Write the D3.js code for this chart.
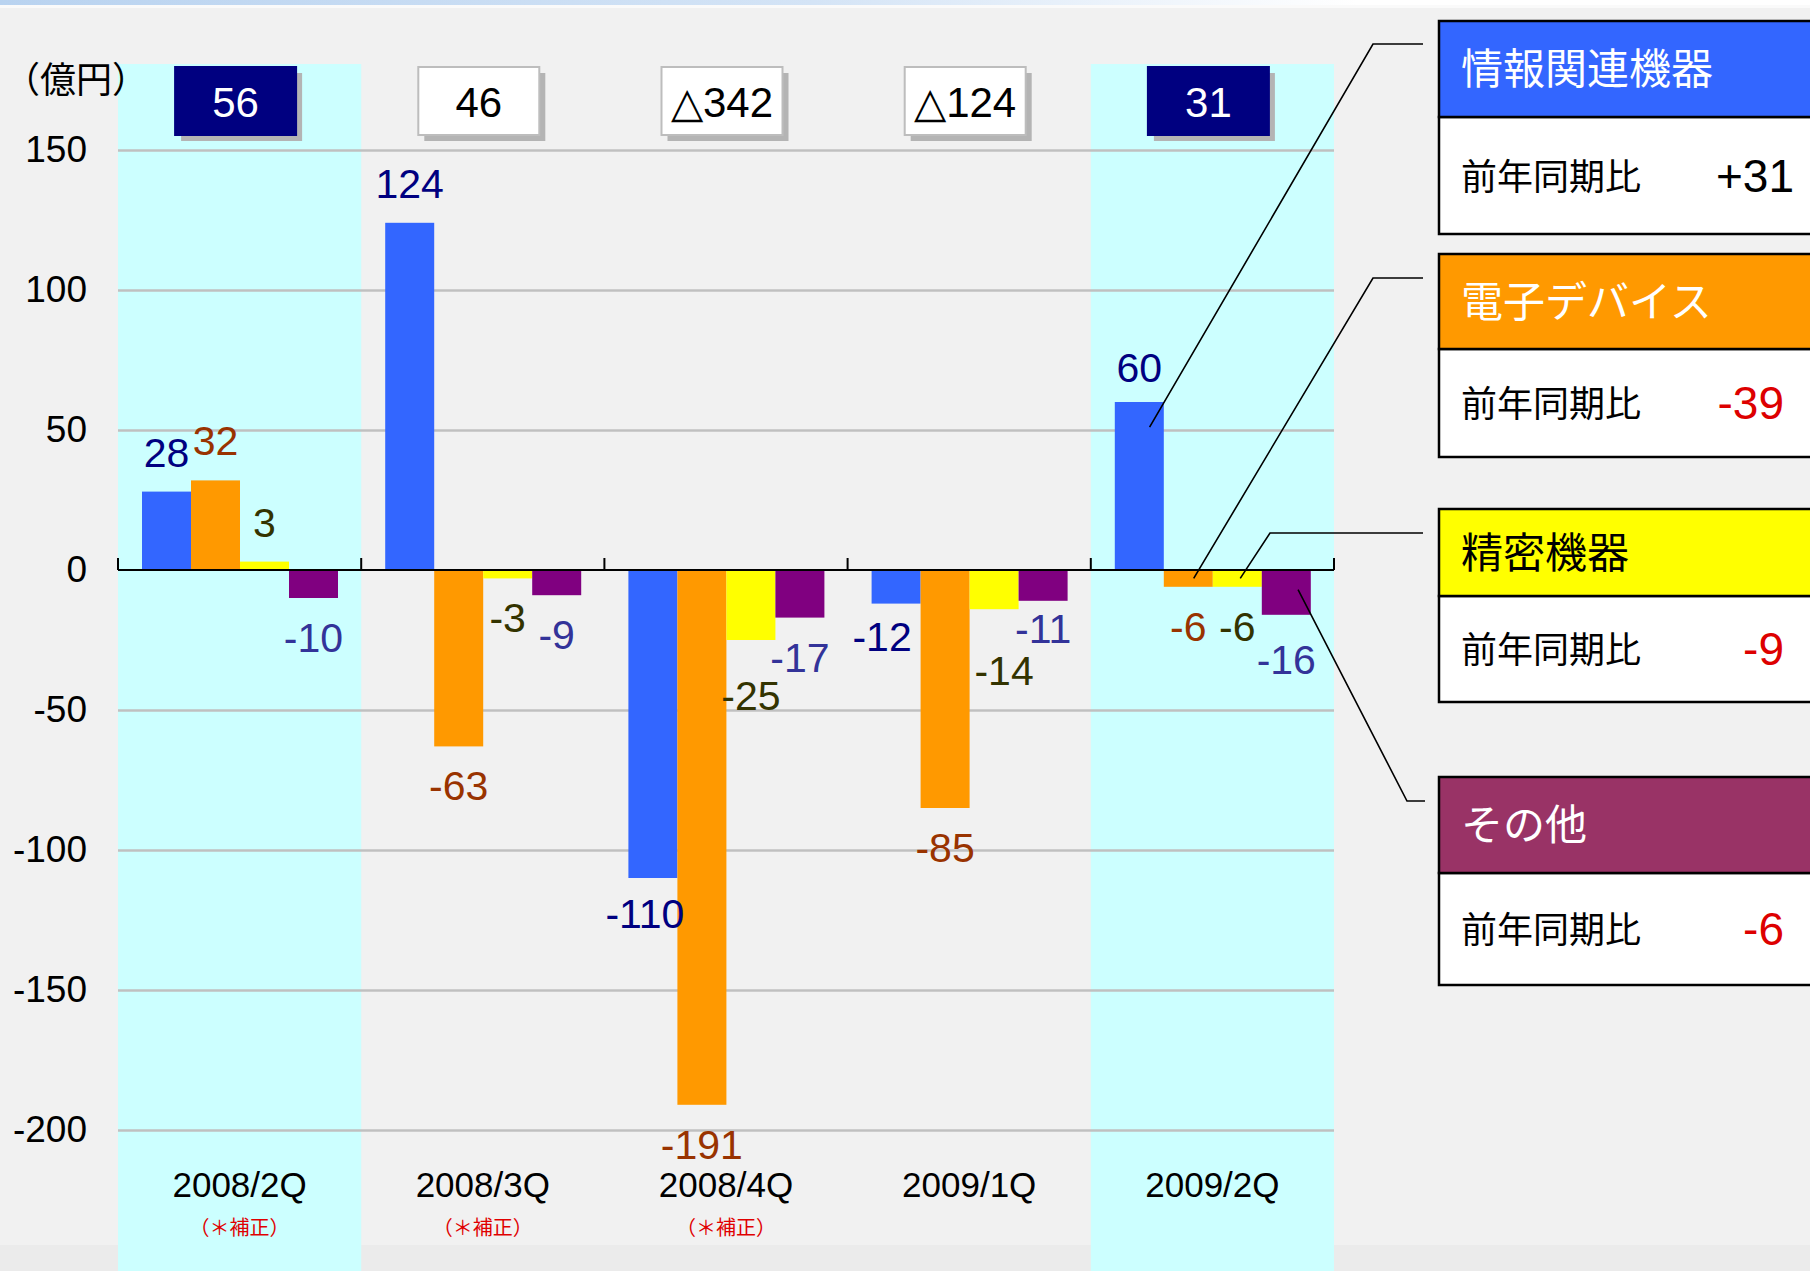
<!DOCTYPE html>
<html>
<head>
<meta charset="utf-8">
<script src="https://cdn.jsdelivr.net/npm/d3@7"></script>
<style>
  body { margin: 0; background: #f1f1f1; }
  svg { display: block; font-family: Arial, 'Liberation Sans', sans-serif; }
</style>
</head>
<body>
<svg width="1810" height="1271"></svg>
<script>
const categories = ['2008/2Q', '2008/3Q', '2008/4Q', '2009/1Q', '2009/2Q'];
const revised = ['2008/2Q', '2008/3Q', '2008/4Q'];
const highlighted = ['2008/2Q', '2009/2Q'];
const totals = ['56', '46', '△342', '△124', '31'];

const seriesNames = ['情報関連機器', '電子デバイス', '精密機器', 'その他'];
const infoDevices = [28, 124, -110, -12, 60];
const electronicDevices = [32, -63, -191, -85, -6];
const precisionDevices = [3, -3, -25, -14, -6];
const others = [-10, -9, -17, -11, -16];
const yoyChange = ['+31', '-39', '-9', '-6'];

const yTicks = [-200, -150, -100, -50, 0, 50, 100, 150];

const seriesValues = [infoDevices, electronicDevices, precisionDevices, others];
const barColors = ['#3366ff', '#ff9900', '#ffff00', '#800080'];
const labelColors = ['#000080', '#993300', '#333300', '#333399'];
const headerColors = ['#3366ff', '#ff9900', '#ffff00', '#993366'];
const headerText = ['#ffffff', '#ffffff', '#000000', '#ffffff'];

// hand tweaks for labels that were moved to avoid overlap
const nudge = {
  '2008/4Q|2': [0, 16],
  '2008/4Q|0': [-8, -4],
  '2009/1Q|0': [-14, -7],
  '2009/1Q|2': [10, 22],
  '2009/1Q|3': [0, -12],
  '2009/2Q|0': [0, 5],
  '2009/2Q|3': [0, 5],
};

const svg = d3.select('svg');
const left = 118;
const right = 1334;

const x0 = d3.scaleBand()
  .domain(categories)
  .range([left, right]);

const x1 = d3.scaleBand()
  .domain(d3.range(4))
  .range([24, 220]);

const y = d3.scaleLinear()
  .domain([-200, 150])
  .range([1130, 150]);

// top strip
const defs = svg.append('defs');
const grad = defs.append('linearGradient').attr('id', 'topStrip');
grad.append('stop').attr('offset', '0%').attr('stop-color', '#b9d3f0');
grad.append('stop').attr('offset', '45%').attr('stop-color', '#d4e4f6');
grad.append('stop').attr('offset', '75%').attr('stop-color', '#ffffff');
svg.append('rect').attr('width', 1810).attr('height', 5).attr('fill', 'url(#topStrip)');
svg.append('rect').attr('y', 5).attr('width', 1810).attr('height', 3).attr('fill', '#fafafa');
svg.append('rect').attr('y', 1245).attr('width', 1810).attr('height', 26).attr('fill', '#ebebeb');

// highlighted quarters
svg.append('g')
  .selectAll('rect')
  .data(highlighted)
  .enter()
  .append('rect')
    .attr('x', d => x0(d))
    .attr('y', 64)
    .attr('width', x0.bandwidth())
    .attr('height', 1271 - 64)
    .attr('fill', '#ccffff');

// grid + y labels
const yAxis = svg.append('g')
  .attr('transform', `translate(${left},0)`)
  .call(d3.axisLeft(y)
    .tickValues(yTicks)
    .tickSize(-(right - left))
    .tickPadding(31)
    .tickFormat(d => String(d)));

yAxis.select('.domain').remove();
yAxis.selectAll('line')
  .attr('stroke', '#c0c0c0')
  .attr('stroke-width', 2.5)
  .attr('display', d => (d === 0 ? 'none' : null));
yAxis.selectAll('text')
  .attr('font-size', 37)
  .attr('fill', '#000')
  .attr('font-family', 'Arial, Liberation Sans, sans-serif');

svg.append('text')
  .attr('x', 4)
  .attr('y', 93)
  .attr('font-size', 36)
  .attr('font-family', 'Noto Sans CJK JP')
  .text('（億円）');

// bars
const bars = [];
categories.forEach((c, ci) => {
  seriesValues.forEach((vals, si) => {
    bars.push({ cat: c, s: si, v: vals[ci] });
  });
});

svg.append('g')
  .selectAll('rect')
  .data(bars)
  .enter()
  .append('rect')
    .attr('x', d => x0(d.cat) + x1(d.s))
    .attr('y', d => y(Math.max(0, d.v)))
    .attr('width', x1.bandwidth())
    .attr('height', d => Math.abs(y(d.v) - y(0)))
    .attr('fill', d => barColors[d.s]);

// zero axis with category dividers
const zero = y(0);
svg.append('line')
  .attr('x1', left).attr('x2', right)
  .attr('y1', zero).attr('y2', zero)
  .attr('stroke', '#000')
  .attr('stroke-width', 2);

svg.append('g')
  .selectAll('line')
  .data(categories.concat(['end']))
  .enter()
  .append('line')
    .attr('x1', (d, i) => left + i * x0.bandwidth())
    .attr('x2', (d, i) => left + i * x0.bandwidth())
    .attr('y1', zero - 12)
    .attr('y2', zero)
    .attr('stroke', '#000')
    .attr('stroke-width', 2);

// value labels
const shift = d => nudge[`${d.cat}|${d.s}`] || [0, 0];
svg.append('g')
  .selectAll('text')
  .data(bars)
  .enter()
  .append('text')
    .attr('x', d => x0(d.cat) + x1(d.s) + x1.bandwidth() / 2 + shift(d)[0])
    .attr('y', d => (d.v >= 0 ? y(d.v) - 25 : y(d.v) + 54) + shift(d)[1])
    .attr('text-anchor', 'middle')
    .attr('font-size', 41)
    .attr('fill', d => labelColors[d.s])
    .text(d => String(d.v));

// category labels
const cats = svg.append('g');
cats.selectAll('text.cat')
  .data(categories)
  .enter()
  .append('text')
    .attr('class', 'cat')
    .attr('x', d => x0(d) + x0.bandwidth() / 2)
    .attr('y', 1197)
    .attr('text-anchor', 'middle')
    .attr('font-size', 35)
    .text(d => d);

cats.selectAll('text.rev')
  .data(revised)
  .enter()
  .append('text')
    .attr('class', 'rev')
    .attr('x', d => x0(d) + x0.bandwidth() / 2)
    .attr('y', 1235)
    .attr('text-anchor', 'middle')
    .attr('font-size', 20)
    .attr('font-family', 'Noto Sans CJK JP')
    .attr('fill', '#e00000')
    .text('（＊補正）');

// total boxes above each quarter
const boxW = 121;
const boxH = 68;
const box = svg.append('g')
  .selectAll('g')
  .data(categories)
  .enter()
  .append('g')
    .attr('transform', d => `translate(${x0(d) + x0.bandwidth() / 2 - boxW / 2 - 4},67)`);

box.append('rect')
  .attr('x', 6).attr('y', 6)
  .attr('width', boxW).attr('height', boxH)
  .attr('fill', '#b4b4b4');

box.append('rect')
  .attr('width', boxW).attr('height', boxH)
  .attr('fill', d => (highlighted.includes(d) ? '#000080' : '#ffffff'))
  .attr('stroke', d => (highlighted.includes(d) ? '#000080' : '#bdbdbd'))
  .attr('stroke-width', 2);

box.append('text')
  .attr('x', boxW / 2)
  .attr('y', 50)
  .attr('text-anchor', 'middle')
  .attr('font-size', 42)
  .attr('fill', d => (highlighted.includes(d) ? '#ffffff' : '#000000'))
  .text((d, i) => totals[i]);

// legend panels
const panelX = 1439;
const panels = [
  { top: 21, mid: 117, bottom: 234 },
  { top: 254, mid: 349, bottom: 457 },
  { top: 509, mid: 596, bottom: 702 },
  { top: 777, mid: 873, bottom: 985 },
];

const panel = svg.append('g')
  .selectAll('g')
  .data(panels)
  .enter()
  .append('g');

panel.append('rect')
  .attr('x', panelX).attr('y', d => d.mid)
  .attr('width', 420).attr('height', d => d.bottom - d.mid)
  .attr('fill', '#fff')
  .attr('stroke', '#000')
  .attr('stroke-width', 2.5);

panel.append('rect')
  .attr('x', panelX).attr('y', d => d.top)
  .attr('width', 420).attr('height', d => d.mid - d.top)
  .attr('fill', (d, i) => headerColors[i])
  .attr('stroke', '#000')
  .attr('stroke-width', 2.5);

panel.append('text')
  .attr('x', panelX + 22)
  .attr('y', d => (d.top + d.mid) / 2 + 15)
  .attr('font-size', 42)
  .attr('font-family', 'Noto Sans CJK JP')
  .attr('fill', (d, i) => headerText[i])
  .text((d, i) => seriesNames[i]);

panel.append('text')
  .attr('x', panelX + 22)
  .attr('y', d => (d.mid + d.bottom) / 2 + 14)
  .attr('font-size', 36)
  .attr('font-family', 'Noto Sans CJK JP')
  .text('前年同期比');

panel.append('text')
  .attr('x', (d, i) => (yoyChange[i].startsWith('+') ? 1794 : 1784))
  .attr('y', d => (d.mid + d.bottom) / 2 + 16)
  .attr('text-anchor', 'end')
  .attr('font-size', 46)
  .attr('fill', (d, i) => (yoyChange[i].startsWith('+') ? '#000' : '#dd0000'))
  .text((d, i) => yoyChange[i]);

// leader lines from panels to the 2009/2Q bars
const last = categories[categories.length - 1];
const barX = (s, f) => x0(last) + x1(s) + x1.bandwidth() * f;
const leaders = [
  [[1423, 44], [1373, 44], [barX(0, 0.71), y(51)]],
  [[1423, 278], [1373, 278], [barX(1, 0.61), y(-3)]],
  [[1423, 533], [1270, 533], [barX(2, 0.56), y(-3)]],
  [[1425, 801], [1407, 801], [barX(3, 0.74), y(-7)]],
];

svg.append('g')
  .selectAll('path')
  .data(leaders)
  .enter()
  .append('path')
    .attr('d', d3.line())
    .attr('fill', 'none')
    .attr('stroke', '#000')
    .attr('stroke-width', 1.6);
</script>
</body>
</html>
